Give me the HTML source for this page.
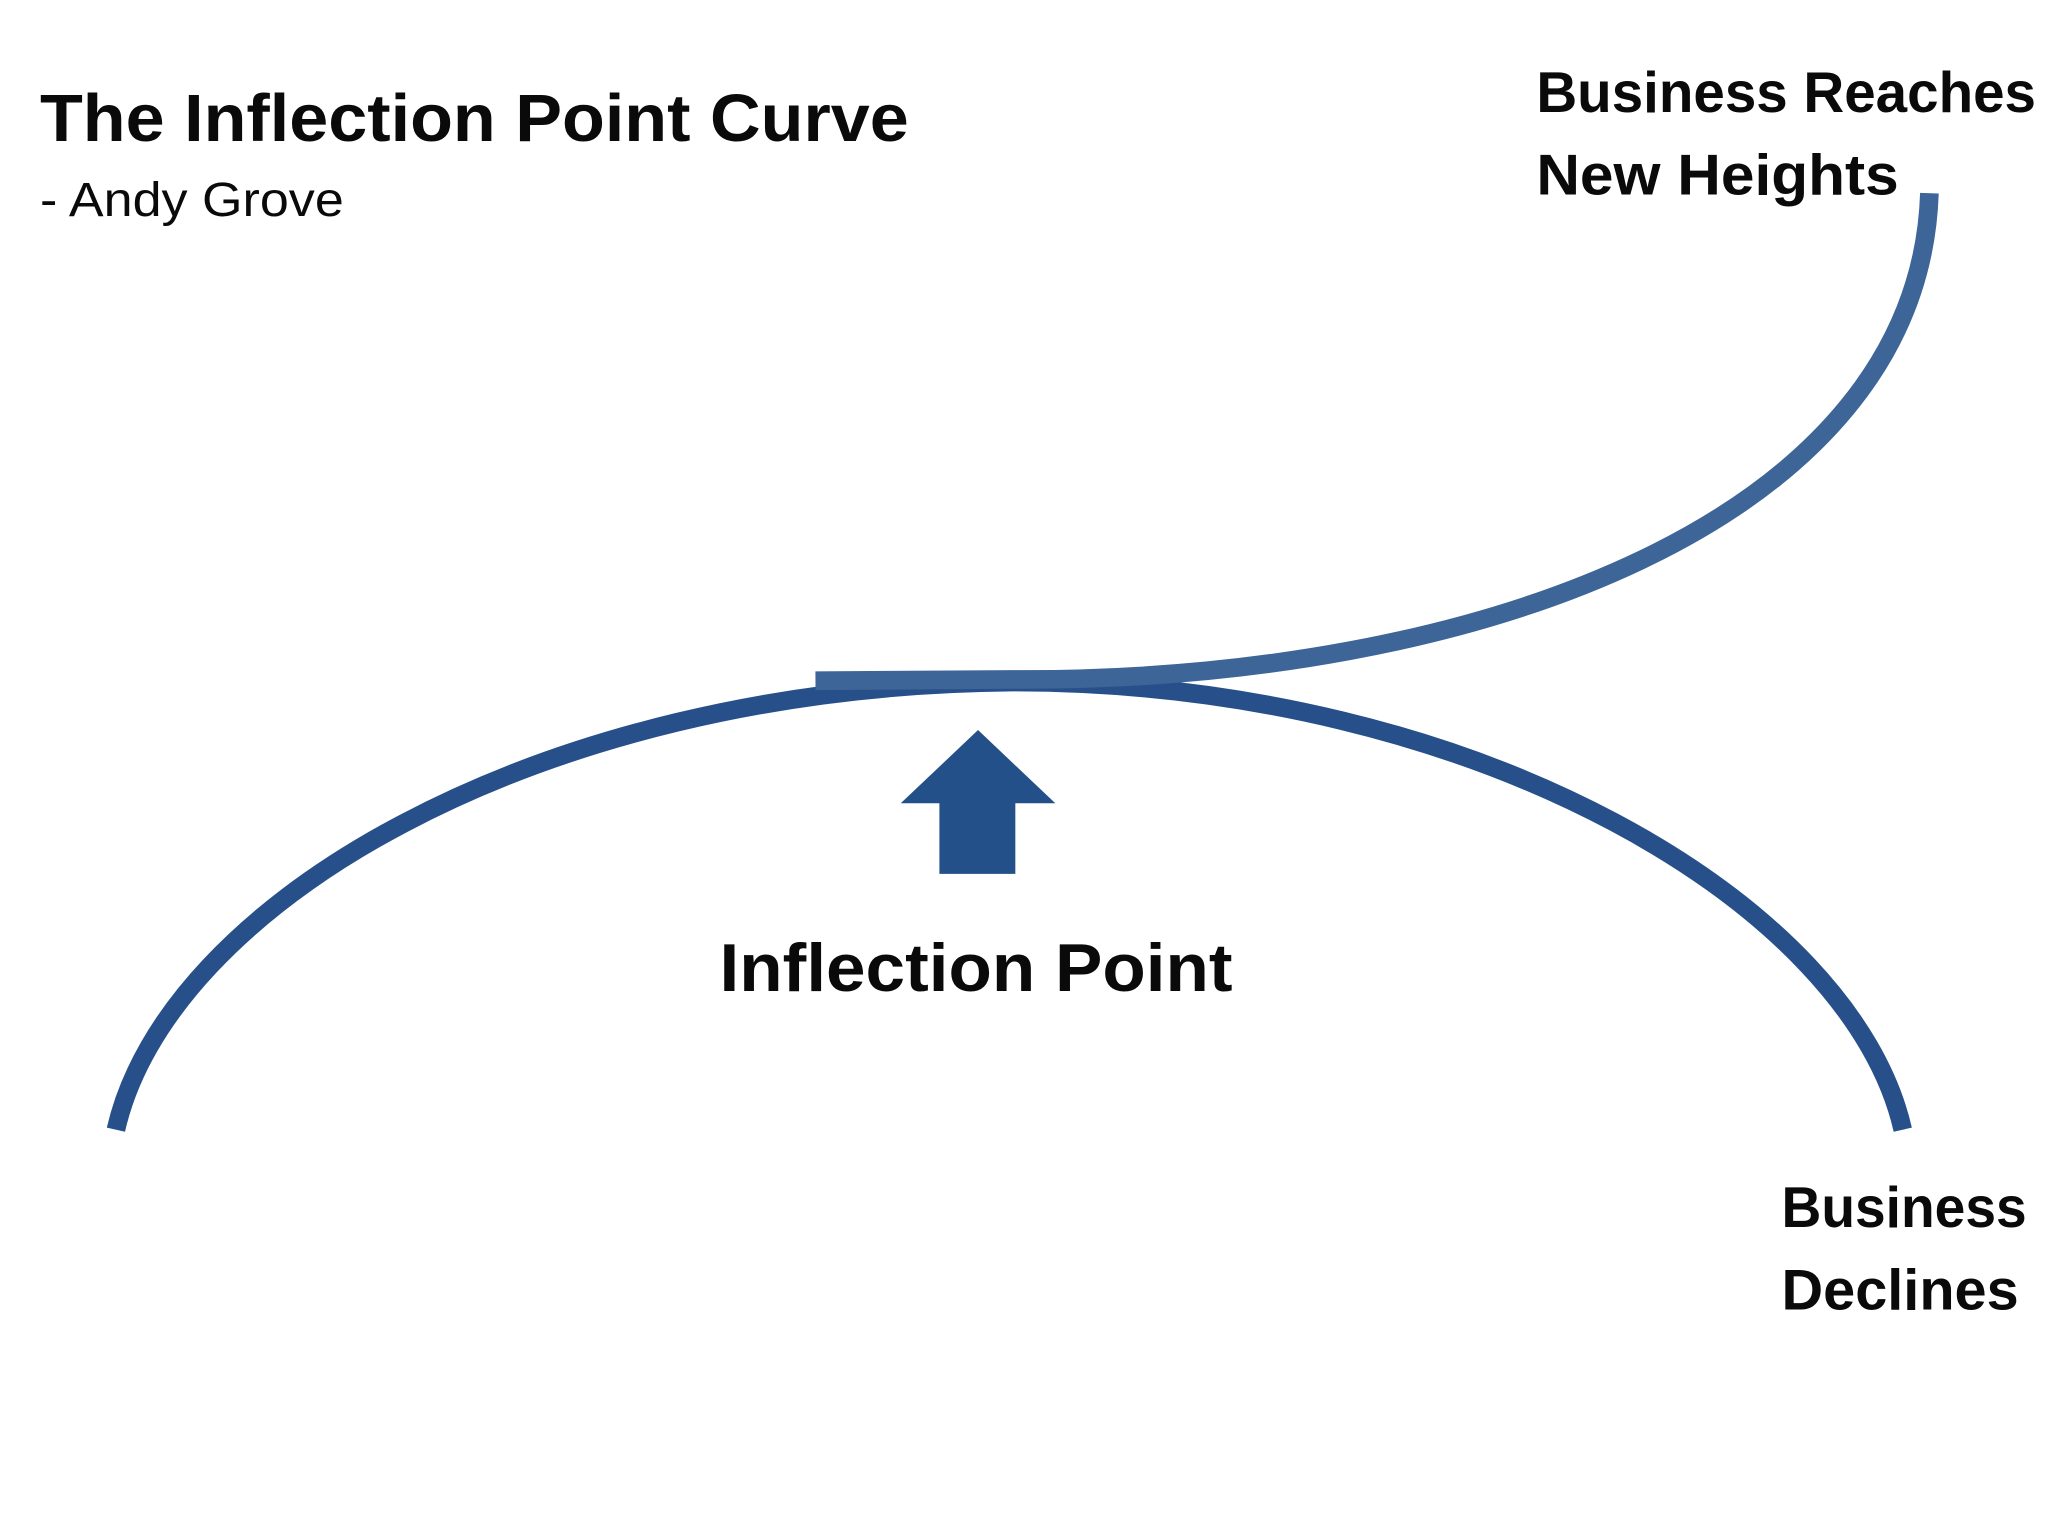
<!DOCTYPE html>
<html><head><meta charset="utf-8"><style>
html,body{margin:0;padding:0;background:#fff;}
svg{display:block;}
text{font-family:"Liberation Sans",sans-serif;fill:#0a0a0a;}
</style></head><body>
<svg width="2048" height="1536" viewBox="0 0 1537 1153" preserveAspectRatio="none" xmlns="http://www.w3.org/2000/svg">
<rect width="1552" height="1164" fill="#fff"/>
<text x="30" y="106" font-size="50" font-weight="bold" textLength="652" lengthAdjust="spacingAndGlyphs">The Inflection Point Curve</text>
<text x="30" y="162" font-size="36" textLength="228" lengthAdjust="spacingAndGlyphs">- Andy Grove</text>
<text x="1153" y="84" font-size="43" font-weight="bold" textLength="375" lengthAdjust="spacingAndGlyphs">Business Reaches</text>
<text x="1153" y="146" font-size="43" font-weight="bold" textLength="272" lengthAdjust="spacingAndGlyphs">New Heights</text>
<text x="540" y="744" font-size="51" font-weight="bold" textLength="385" lengthAdjust="spacingAndGlyphs">Inflection Point</text>
<text x="1337" y="921" font-size="43" font-weight="bold" textLength="184" lengthAdjust="spacingAndGlyphs">Business</text>
<text x="1337" y="983" font-size="43" font-weight="bold" textLength="178" lengthAdjust="spacingAndGlyphs">Declines</text>
<path d="M87,848 C125,680 400,515 760,512 C1110,512 1390,680 1428,848" fill="none" stroke="#27508a" stroke-width="14"/>
<path d="M612,511 L760,510 C1110,512 1440,390 1448,145" fill="none" stroke="#3d6597" stroke-width="14"/>
<polygon points="734,548 792,603 762,603 762,656 705,656 705,603 676,603" fill="#24508a"/>
</svg>
</body></html>
